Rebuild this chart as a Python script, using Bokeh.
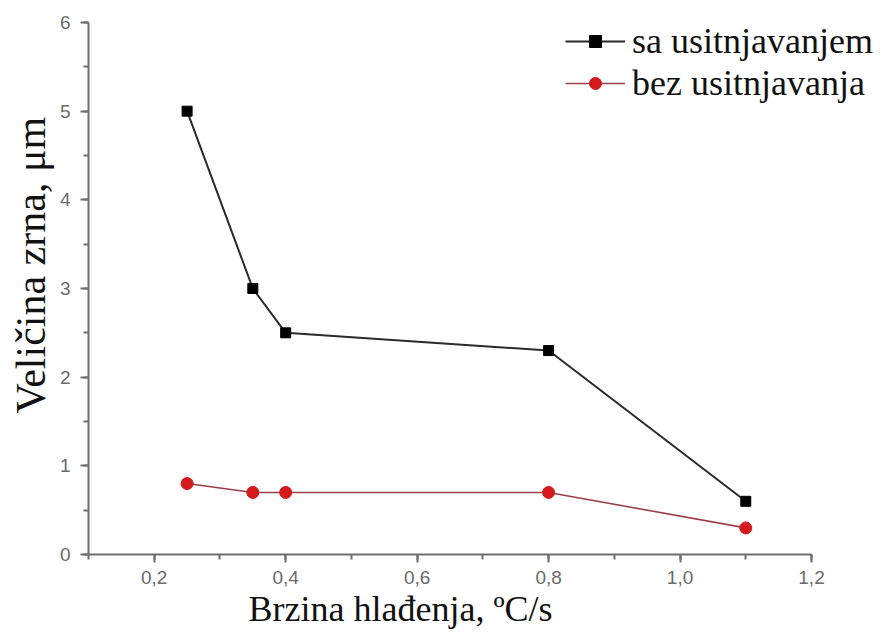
from bokeh.plotting import figure
from bokeh.models import SingleIntervalTicker, CustomJSTickFormatter, Range1d, Title
from bokeh.embed import file_html
from bokeh.resources import INLINE

x_vals = [0.25, 0.35, 0.4, 0.8, 1.1]
sa_usitnjavanjem = [5.0, 3.0, 2.5, 2.3, 0.6]
bez_usitnjavanja = [0.8, 0.7, 0.7, 0.7, 0.3]

x_title = "Brzina hlađenja, ºC/s"
y_title = "Veličina zrna, μm"

x_start, x_end = 0.1, 1.2
y_start, y_end = 0.0, 6.0
W, H = 875, 631
left_px, axis_right_px = 88, 811
top_px, bottom_px = 22, 554
# frame fills the canvas to the right and top so the legend is not clipped;
# axes are drawn only over their own bounds
x_ppu = (axis_right_px - left_px) / (x_end - x_start)
y_ppu = (bottom_px - top_px) / (y_end - y_start)
frame_x_end = x_start + (W - left_px) / x_ppu
frame_y_end = y_end + top_px / y_ppu

p = figure(width=W, height=H, output_backend="svg", toolbar_location=None,
           x_range=Range1d(x_start, frame_x_end), y_range=Range1d(y_start, frame_y_end),
           min_border_left=left_px, min_border_right=0, min_border_top=0,
           min_border_bottom=H - bottom_px)

p.line(x_vals, sa_usitnjavanjem, line_color="#2a2a2a", line_width=2, legend_label="sa usitnjavanjem")
p.scatter(x_vals, sa_usitnjavanjem, marker="square", size=10, fill_color="black", line_color="black",
          legend_label="sa usitnjavanjem")
p.line(x_vals, bez_usitnjavanja, line_color="#9a4048", line_width=1.6, legend_label="bez usitnjavanja")
p.scatter(x_vals, bez_usitnjavanja, marker="circle", size=12, fill_color="#d41a1a", line_color="#d41a1a",
          legend_label="bez usitnjavanja")

p.xgrid.visible = False
p.ygrid.visible = False
p.outline_line_color = None

p.xaxis.ticker = SingleIntervalTicker(interval=0.2, num_minor_ticks=2)
p.yaxis.ticker = SingleIntervalTicker(interval=1, num_minor_ticks=2)
p.xaxis.formatter = CustomJSTickFormatter(code="return tick.toFixed(1).replace('.', ',');")
p.xaxis.bounds = (x_start, x_end + 0.0001)
p.yaxis.bounds = (y_start, y_end + 0.0001)

for ax in (p.xaxis, p.yaxis):
    ax.axis_line_color = "#6e6e6e"
    ax.axis_line_width = 2
    ax.major_tick_line_color = "#6e6e6e"
    ax.minor_tick_line_color = "#6e6e6e"
    ax.major_tick_line_width = 2
    ax.minor_tick_line_width = 2
    ax.major_tick_out = 8
    ax.major_tick_in = 0
    ax.minor_tick_out = 5
    ax.minor_tick_in = 0
    ax.major_label_text_font = "Liberation Sans"
    ax.major_label_text_font_size = "19px"
    ax.major_label_text_color = "#6a6a6a"
    ax.major_label_standoff = 10
p.xaxis.major_label_standoff = 8

p.add_layout(Title(text=x_title, align="left", offset=160, standoff=0,
                   text_font="Liberation Serif", text_font_size="36px",
                   text_font_style="normal", text_color="#111111"), "below")
p.add_layout(Title(text=y_title, align="left", offset=141, standoff=6,
                   text_font="Liberation Serif", text_font_size="42px",
                   text_font_style="normal", text_color="#111111"), "left")

p.legend.location = (477, 450)
p.legend.background_fill_alpha = 0
p.legend.border_line_color = None
p.legend.label_text_font = "Liberation Serif"
p.legend.label_text_font_size = "36px"
p.legend.label_text_color = "#111111"
p.legend.glyph_width = 60
p.legend.glyph_height = 30
p.legend.spacing = 0
p.legend.label_standoff = 7
p.legend.padding = 0
p.legend.margin = 0

open("out.html", "w").write(file_html(p, INLINE))
